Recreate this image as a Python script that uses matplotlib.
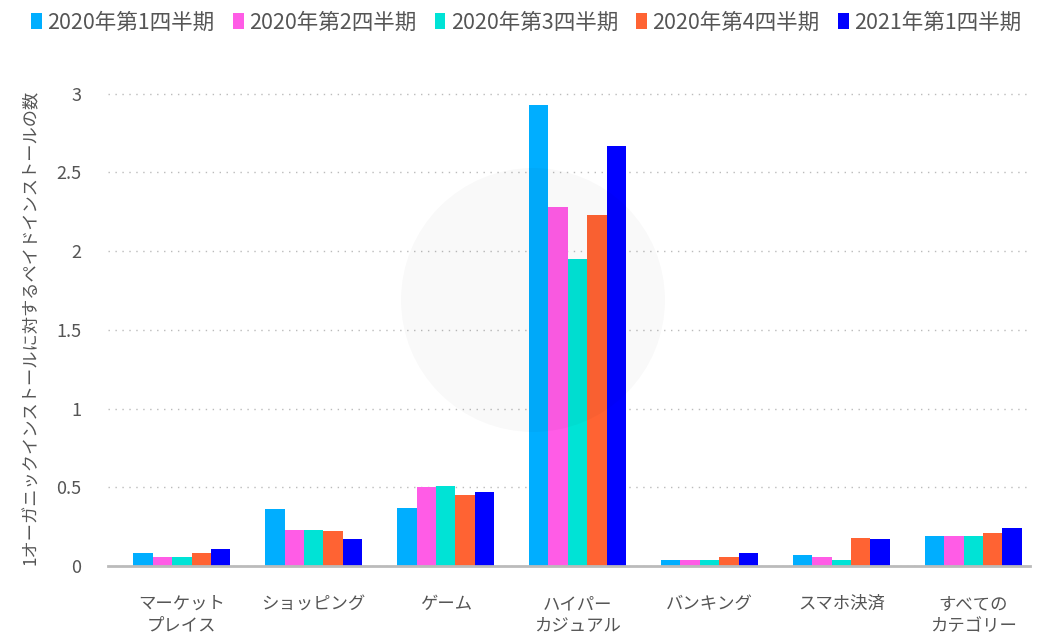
import numpy as np
import matplotlib.pyplot as plt
from matplotlib.patches import Circle
from matplotlib.transforms import IdentityTransform

plt.rcParams['font.family'] = ['Noto Sans CJK JP', 'DejaVu Sans']

categories = ["マーケット\nプレイス", "ショッピング", "ゲーム", "ハイパー\nカジュアル",
              "バンキング", "スマホ決済", "すべての\nカテゴリー"]
series_names = ["2020年第1四半期", "2020年第2四半期", "2020年第3四半期",
                "2020年第4四半期", "2021年第1四半期"]
q1_2020 = [0.08, 0.36, 0.37, 2.93, 0.04, 0.07, 0.19]
q2_2020 = [0.06, 0.23, 0.50, 2.28, 0.04, 0.06, 0.19]
q3_2020 = [0.06, 0.23, 0.51, 1.95, 0.04, 0.04, 0.19]
q4_2020 = [0.08, 0.22, 0.45, 2.23, 0.06, 0.18, 0.21]
q1_2021 = [0.11, 0.17, 0.47, 2.67, 0.08, 0.17, 0.24]
colors = ["#00AEFF", "#FF5CE6", "#00E3D6", "#FF6333", "#0000FF"]

values = [q1_2020, q2_2020, q3_2020, q4_2020, q1_2021]

fig = plt.figure(figsize=(10.43, 6.37), dpi=100)
ax = fig.add_axes([108 / 1043, 1 - 566 / 637, 922 / 1043, 477 / 637])

x = np.arange(len(categories))
width = 0.147
for i, (name, vals, c) in enumerate(zip(series_names, values, colors)):
    ax.bar(x + (i - 2) * width, vals, width, color=c, label=name, zorder=3)

# faint watermark circle over the plot
wm = Circle((533, 637 - 300), 132, transform=IdentityTransform(),
            facecolor="black", alpha=0.022, edgecolor="none", zorder=5)
ax.add_artist(wm)

ax.set_xlim(-0.56, 6.43)
ax.set_ylim(0, 3.03)
ax.set_yticks([0, 0.5, 1, 1.5, 2, 2.5, 3])
ax.set_yticklabels(["0", "0.5", "1", "1.5", "2", "2.5", "3"])
ax.set_xticks(x)
ax.set_xticklabels(categories, fontsize=12.5, color="#555555", linespacing=1.25)
ax.tick_params(axis="y", length=0, labelsize=13, labelcolor="#555555", pad=19)
ax.tick_params(axis="x", length=0, pad=21)
ax.grid(axis="y", linestyle=(0, (1, 4)), color="#bbbbbb", linewidth=1, zorder=0)
for s in ["top", "right", "left"]:
    ax.spines[s].set_visible(False)
ax.spines["bottom"].set_color("#bbbbbb")
ax.spines["bottom"].set_linewidth(2)
ax.spines["bottom"].set_zorder(4)

ax.set_ylabel("1オーガニックインストールに対するペイドインストールの数", fontsize=12.4,
              color="#555555", labelpad=12)

fig.legend(loc="upper left", bbox_to_anchor=(12 / 1043, 1.012), ncol=5,
           frameon=False, fontsize=15.5, handlelength=0.5, handleheight=0.8,
           handletextpad=0.25, columnspacing=0.85, labelcolor="#555555")

fig.savefig("out.png", dpi=100)
